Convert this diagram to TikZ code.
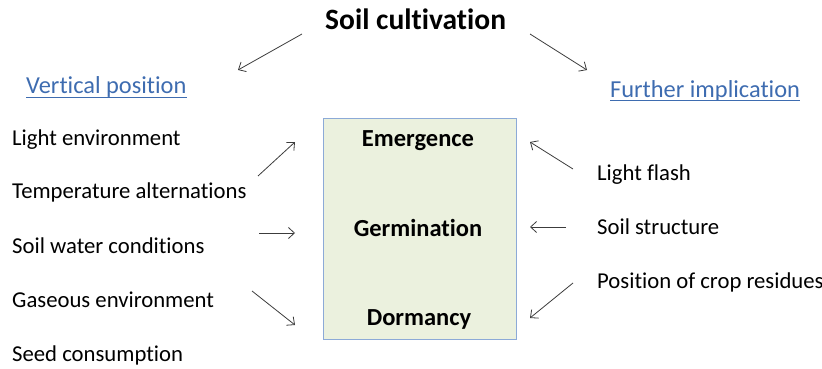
\documentclass[tikz,border=0pt]{standalone}
\usepackage{fontspec}
\setmainfont{Carlito}[Ligatures=NoCommon]
\usetikzlibrary{arrows.meta}
\definecolor{headblue}{RGB}{62,108,176}
\definecolor{boxfill}{RGB}{235,241,222}
\definecolor{boxline}{RGB}{140,170,215}
\definecolor{arrowgray}{RGB}{60,60,60}
\begin{document}
\begin{tikzpicture}[x=1pt,y=-1pt,
  lbl/.style={inner sep=0pt, anchor=base west, font=\fontsize{22.7}{27}\selectfont},
  head/.style={inner sep=0pt, anchor=base west, text=headblue, font=\fontsize{24.4}{29}\selectfont},
  stage/.style={inner sep=0pt, anchor=base, font=\bfseries\fontsize{24.5}{29}\selectfont},
  conn/.style={draw=arrowgray, line width=0.8pt, -{Straight Barb[length=6pt,width=11pt]}}
]
\useasboundingbox (0,0) rectangle (822,369);
\node[inner sep=0pt, anchor=base west, font=\bfseries\fontsize{29.5}{35}\selectfont] (title) at (325,30) {Soil cultivation};

\node[head] (vp) at (26,93) {Vertical position};
\draw[headblue, line width=1.2pt] ([yshift=-4.5pt]vp.base west) -- ([yshift=-4.5pt]vp.base east);
\node[head] (fi) at (610,97) {Further implication};
\draw[headblue, line width=1.2pt] ([yshift=-3.5pt]fi.base west) -- ([yshift=-3.5pt]fi.base east);

\node[draw=boxline, fill=boxfill, line width=1pt, minimum width=193pt, minimum height=221pt, inner sep=0pt] (box) at (419.5,228.5) {};
\node[stage] (em) at (418,146) {Emergence};
\node[stage] (ge) at (418,236) {Germination};
\node[stage] (do) at (419,325) {Dormancy};

\node[lbl] (l1) at (12,145) {Light environment};
\node[lbl] (l2) at (12,198) {Temperature alternations};
\node[lbl] (l3) at (12,253) {Soil water conditions};
\node[lbl] (l4) at (12,307) {Gaseous environment};
\node[lbl] (l5) at (12,361) {Seed consumption};

\node[lbl] (r1) at (597,180) {Light flash};
\node[lbl] (r2) at (597,234) {Soil structure};
\node[lbl] (r3) at (597,288) {Position of crop residues};

\coordinate (a1s) at (302,34);  \coordinate (a1e) at (238,70);
\coordinate (a2s) at (530,34);  \coordinate (a2e) at (587,70);
\coordinate (a3s) at (258,176); \coordinate (a3e) at (295,142);
\coordinate (a4s) at (259,233); \coordinate (a4e) at (295,233);
\coordinate (a5s) at (252,291); \coordinate (a5e) at (295,325);
\coordinate (a6s) at (573,169); \coordinate (a6e) at (530,142);
\coordinate (a7s) at (566,227); \coordinate (a7e) at (530,227);
\coordinate (a8s) at (573,283); \coordinate (a8e) at (530,318);

\draw[conn] (a1s) -- (a1e);
\draw[conn] (a2s) -- (a2e);
\draw[conn] (a3s) -- (a3e);
\draw[conn] (a4s) -- (a4e);
\draw[conn] (a5s) -- (a5e);
\draw[conn] (a6s) -- (a6e);
\draw[conn] (a7s) -- (a7e);
\draw[conn] (a8s) -- (a8e);
\end{tikzpicture}
\end{document}
